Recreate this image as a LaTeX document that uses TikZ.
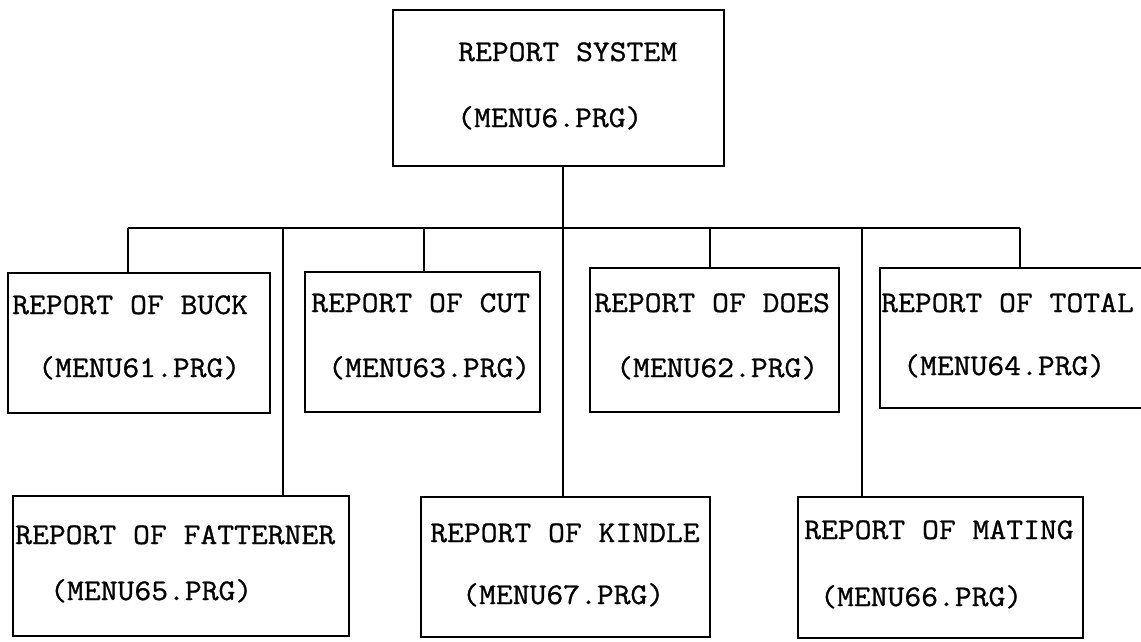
\documentclass[tikz,border=0pt]{standalone}
\usepackage{fontspec}
\newfontfamily\typewr{Latin Modern Mono}[FakeStretch=1.09,FakeBold=0.9]
\begin{document}
\begin{tikzpicture}[x=1pt,y=-1pt,
  box/.style={draw,line width=2.5pt,rectangle,inner sep=0pt},
  lbl/.style={anchor=base west,inner sep=0pt,font=\typewr\fontsize{30}{32}\selectfont},
  conn/.style={line width=2.3pt}]
\useasboundingbox (0,0) rectangle (1141,641);
% boxes
\node[box,minimum width=331pt,minimum height=156pt] (top) at (558.5,88) {};
\node[box,minimum width=262pt,minimum height=140pt] (buck) at (139,343) {};
\node[box,minimum width=235pt,minimum height=140pt] (cut) at (422.5,342) {};
\node[box,minimum width=249pt,minimum height=144pt] (does) at (714.5,340) {};
\node[box,minimum width=270pt,minimum height=140pt] (total) at (1015,338) {};
\node[box,minimum width=336pt,minimum height=140pt] (fat) at (181,566) {};
\node[box,minimum width=289pt,minimum height=140pt] (kindle) at (565.5,567) {};
\node[box,minimum width=285pt,minimum height=141pt] (mating) at (940.5,567.5) {};
% texts
\node[lbl] (t1) at (458,61) {REPORT SYSTEM};
\node[lbl] (t2) at (457,127) {(MENU6.PRG)};
\node[lbl] (b1) at (12,314) {REPORT OF BUCK};
\node[lbl] (b2) at (38,377) {(MENU61.PRG)};
\node[lbl] (c1) at (311,312) {REPORT OF CUT};
\node[lbl] (c2) at (328,377) {(MENU63.PRG)};
\node[lbl] (d1) at (594,312) {REPORT OF DOES};
\node[lbl] (d2) at (616,377) {(MENU62.PRG)};
\node[lbl] (o1) at (881,312) {REPORT OF TOTAL};
\node[lbl] (o2) at (903,375) {(MENU64.PRG)};
\node[lbl] (f1) at (15,544) {REPORT OF FATTERNER};
\node[lbl] (f2) at (50,600) {(MENU65.PRG)};
\node[lbl] (k1) at (430,542) {REPORT OF KINDLE};
\node[lbl] (k2) at (462,604) {(MENU67.PRG)};
\node[lbl] (m1) at (804,539) {REPORT OF MATING};
\node[lbl] (m2) at (820,606) {(MENU66.PRG)};
% connectors
\coordinate (busL) at (128,228);
\coordinate (busR) at (1020,228);
\coordinate (fdrop) at (283,228);
\coordinate (mdrop) at (862,228);
\draw[conn] ([xshift=4.5pt]top.south) -- ([xshift=4.5pt]top.south |- kindle.north);
\draw[conn] (busL) -- (busR);
\draw[conn] (busL) -- (busL |- buck.north);
\draw[conn] ([xshift=1.5pt]cut.north) -- ([xshift=1.5pt]cut.north |- busL);
\draw[conn] ([xshift=-4.5pt]does.north) -- ([xshift=-4.5pt]does.north |- busL);
\draw[conn] (busR) -- (busR |- total.north);
\draw[conn] (fdrop) -- (fdrop |- fat.north);
\draw[conn] (mdrop) -- (mdrop |- mating.north);
\end{tikzpicture}
\end{document}
